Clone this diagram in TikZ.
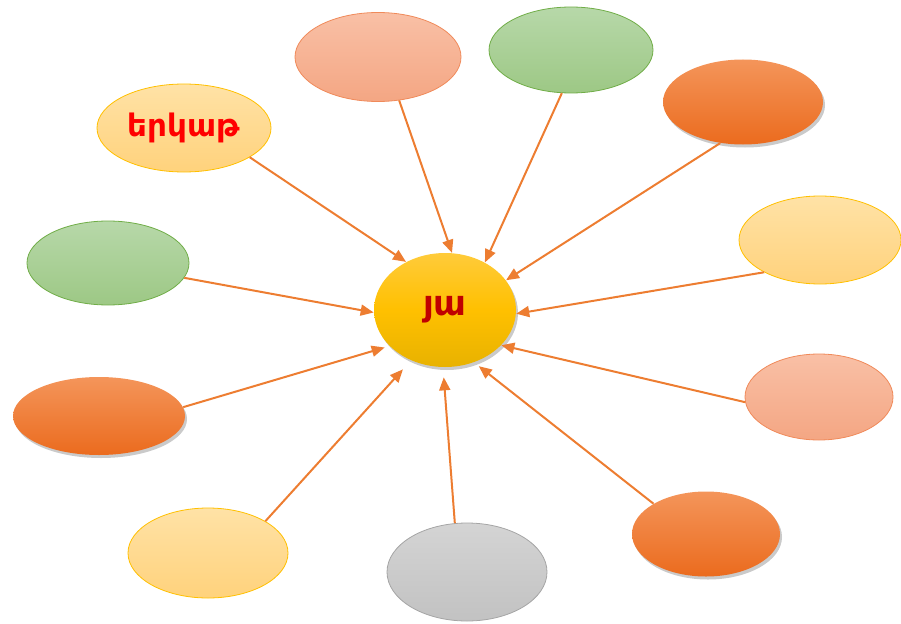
\documentclass[tikz,border=0pt]{standalone}
\usepackage{fontspec}
\newfontfamily\armfont{DejaVu Sans}
\usetikzlibrary{arrows.meta,shadows,shapes.geometric}
\definecolor{arr}{HTML}{ED7D31}
\definecolor{salT}{HTML}{F9C0A6}\definecolor{salB}{HTML}{F4A683}\definecolor{salD}{HTML}{F08A5A}
\definecolor{grnT}{HTML}{B7D8A9}\definecolor{grnB}{HTML}{9DC885}\definecolor{grnD}{HTML}{70AD47}
\definecolor{orT}{HTML}{F4955A}\definecolor{orB}{HTML}{EB6B1E}
\definecolor{yelT}{HTML}{FFE2A6}\definecolor{yelB}{HTML}{FFD27C}\definecolor{yelD}{HTML}{FFC000}
\definecolor{gryT}{HTML}{D4D4D4}\definecolor{gryB}{HTML}{C2C2C2}\definecolor{gryD}{HTML}{A5A5A5}
\definecolor{ctrT}{HTML}{FFCB3A}\definecolor{ctrB}{HTML}{E8B200}
\definecolor{txtA}{HTML}{C00000}
\begin{document}
\begin{tikzpicture}[x=1pt,y=-1pt,
  blob/.style={ellipse,inner sep=0pt,line width=0.8pt},
  salmon/.style={blob,draw=salD,top color=salT,bottom color=salB},
  green/.style={blob,draw=grnD,top color=grnT,bottom color=grnB},
  orng/.style={blob,top color=orT,bottom color=orB,drop shadow={shadow xshift=2pt,shadow yshift=-3pt,opacity=0.35,fill=black!60}},
  yel/.style={blob,draw=yelD,top color=yelT,bottom color=yelB},
  gry/.style={blob,draw=gryD,top color=gryT,bottom color=gryB},
  link/.style={draw=arr,line width=2pt,-{Triangle[length=13pt,width=11pt]}}]
\useasboundingbox (0,0) rectangle (901,623);
% outer nodes
\node[salmon,minimum width=166pt,minimum height=89pt] (n1) at (378,57) {};
\node[green,minimum width=164pt,minimum height=86pt] (n2) at (571,50) {};
\node[orng,minimum width=160pt,minimum height=85pt] (n3) at (743,102) {};
\node[yel,minimum width=162pt,minimum height=88pt] (n4) at (820,240) {};
\node[salmon,minimum width=148pt,minimum height=86pt] (n5) at (819,397) {};
\node[orng,minimum width=148pt,minimum height=85pt] (n6) at (706,534) {};
\node[gry,minimum width=160pt,minimum height=98pt] (n7) at (467,572) {};
\node[yel,minimum width=160pt,minimum height=90pt] (n8) at (208,553) {};
\node[orng,minimum width=172pt,minimum height=78pt] (n9) at (99,416) {};
\node[green,minimum width=162pt,minimum height=84pt] (n10) at (108,263) {};
\node[yel,minimum width=174pt,minimum height=88pt,font=\armfont\bfseries\fontsize{31}{36}\selectfont,text=red] (n11) at (184,128) {երկաթ};
% centre
\node[blob,minimum width=142pt,minimum height=114pt,top color=ctrT,bottom color=ctrB,middle color=yelD,
  drop shadow={shadow xshift=2pt,shadow yshift=-3pt,opacity=0.35,fill=black!60},
  font=\armfont\bfseries\fontsize{35}{40}\selectfont,text=txtA] (c) at (445,310) {յա};
% connectors
\draw[link] (n11.-24) -- (c.129);
\draw[link] (n1.-64) -- (c.83);
\draw[link] (n2.-102) -- (c.50);
\draw[link] (n3.-119) -- (c.26);
\draw[link] (n4.-150) -- (c.-3);
\draw[link] (n5.-176) -- (c.-32);
\draw[link,shorten >=6pt] (n6.150) -- (c.-61);
\draw[link,shorten >=10pt] (n7.104) -- (c.-92);
\draw[link,shorten >=12pt] (n8.29) -- (c.-124);
\draw[link,shorten >=5pt] (n9.6) -- (c.-147);
\draw[link] (n10.-11) -- (c.-178);
\end{tikzpicture}
\end{document}
